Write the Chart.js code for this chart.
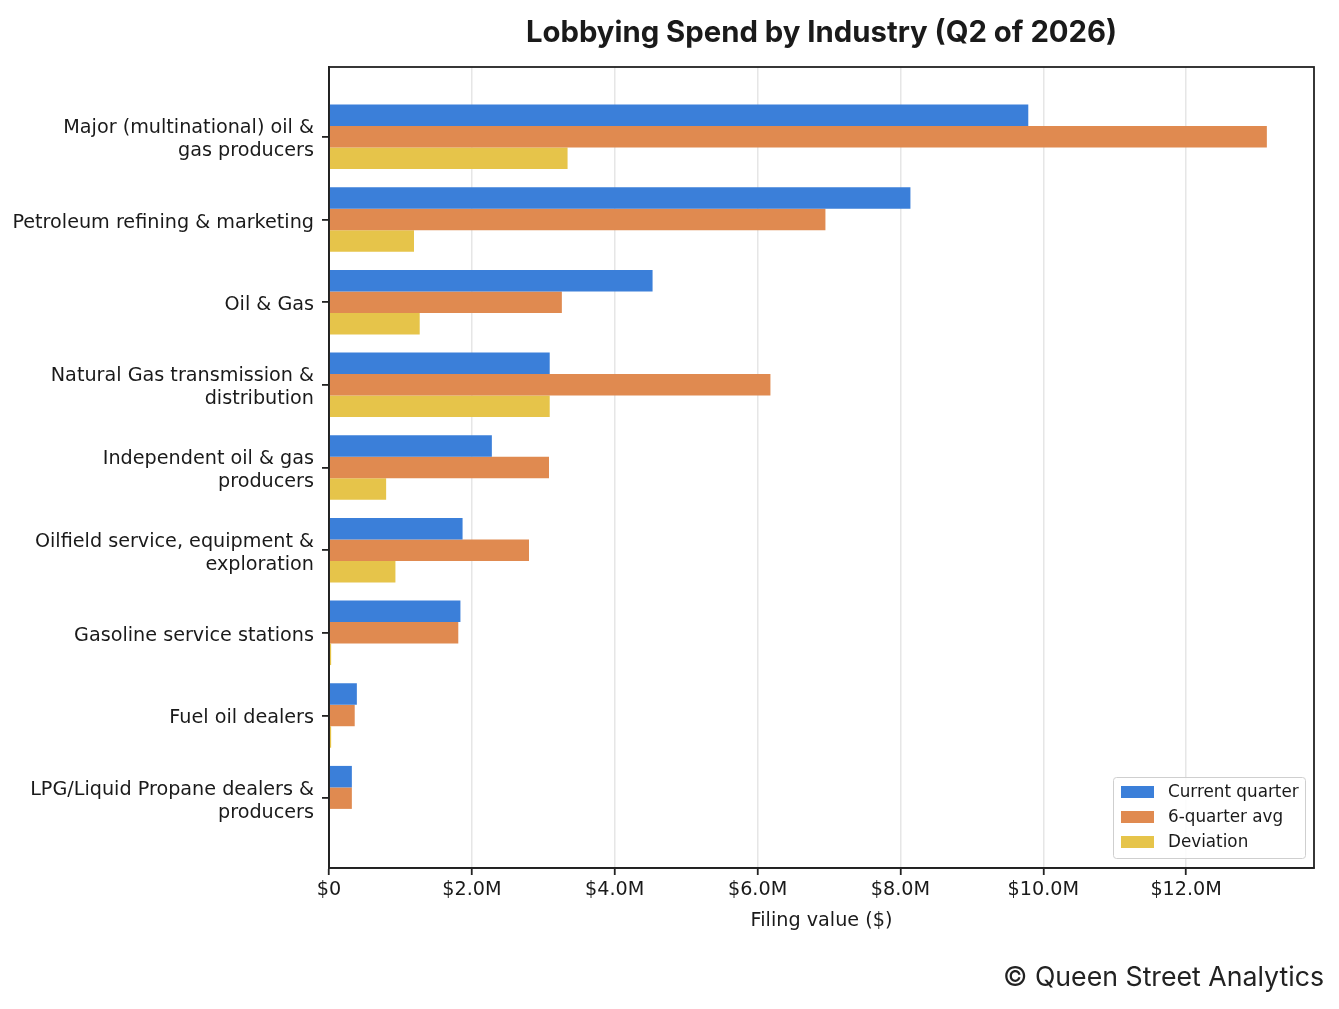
<!DOCTYPE html>
<html><head><meta charset="utf-8">
<script src="https://cdn.jsdelivr.net/npm/chart.js@4.4.1/dist/chart.umd.min.js"></script>
<style>html,body{margin:0;padding:0;background:#fff;}#wrap{width:1339px;height:1009px;}</style>
</head><body><div id="wrap"><canvas id="c" width="1339" height="1009"></canvas></div>
<script>
const chartTitle = 'Lobbying Spend by Industry (Q2 of 2026)';
const categories = [
  'Major (multinational) oil &\ngas producers',
  'Petroleum refining & marketing',
  'Oil & Gas',
  'Natural Gas transmission &\ndistribution',
  'Independent oil & gas\nproducers',
  'Oilfield service, equipment &\nexploration',
  'Gasoline service stations',
  'Fuel oil dealers',
  'LPG/Liquid Propane dealers &\nproducers'
];
const seriesNames = ['Current quarter', '6-quarter avg', 'Deviation'];
const currentQuarter = [9790000, 8140000, 4530000, 3090000, 2280000, 1870000, 1840000, 390000, 320000];
const sixQuarterAvg  = [13130000, 6950000, 3260000, 6180000, 3080000, 2800000, 1810000, 360000, 320000];
const deviation      = [3340000, 1190000, 1270000, 3090000, 800000, 930000, 30000, 30000, 0];
const xTickValues = [0, 2000000, 4000000, 6000000, 8000000, 10000000, 12000000];
const xAxisTitle = 'Filing value ($)';
const credit = '\u00A9 Queen Street Analytics';
const colors = ['#3b7fd9', '#e08a50', '#e6c44a'];

const seriesValues = [currentQuarter, sixQuarterAvg, deviation];
const datasets = seriesNames.map((name, s) => ({
  label: name,
  data: seriesValues[s].map((v, i) => ({x: v, y: i})),
  backgroundColor: colors[s],
  borderWidth: 0,
  categoryPercentage: 0.78,
  barPercentage: 1.0
}));

const TICK_FONT = {family: 'DejaVu Sans', size: 19.2, lineHeight: 1.2};
const DARK = '#222222';

const decorPlugin = {
  id: 'decor',
  afterDraw(chart) {
    const ctx = chart.ctx, a = chart.chartArea;
    ctx.save();
    ctx.strokeStyle = DARK; ctx.lineWidth = 1.8;
    ctx.strokeRect(a.left, a.top, a.right - a.left, a.bottom - a.top);
    ctx.fillStyle = '#1a1a1a';
    ctx.font = 'bold 29.3px "Inter"';
    ctx.textAlign = 'center'; ctx.textBaseline = 'middle';
    ctx.fillText(chartTitle, (a.left + a.right) / 2, 33);
    const bx = 1113.5, by = 777.5, bw = 192, bh = 81;
    ctx.beginPath();
    ctx.roundRect(bx, by, bw, bh, 3);
    ctx.fillStyle = 'rgba(255,255,255,0.85)'; ctx.fill();
    ctx.strokeStyle = '#cfcfcf'; ctx.lineWidth = 1; ctx.stroke();
    ctx.font = '16.8px "DejaVu Sans"';
    ctx.textAlign = 'left'; ctx.textBaseline = 'middle';
    chart.data.datasets.forEach((ds, k) => {
      const cy = 792 + k * 25;
      ctx.fillStyle = ds.backgroundColor;
      ctx.fillRect(1121, cy - 6, 33, 12);
      ctx.fillStyle = '#1a1a1a';
      ctx.fillText(ds.label, 1168, cy + 1);
    });
    ctx.font = '26.7px "Inter"';
    ctx.textAlign = 'right'; ctx.fillStyle = '#222';
    ctx.fillText(credit, 1324, 978);
    ctx.restore();
  }
};

new Chart(document.getElementById('c'), {
  type: 'bar',
  data: {datasets},
  options: {
    responsive: false,
    animation: false,
    devicePixelRatio: 1,
    indexAxis: 'y',
    layout: {padding: {top: 67, right: 25, left: 0, bottom: 0}},
    plugins: {legend: {display: false}, title: {display: false}, tooltip: {enabled: false}},
    scales: {
      x: {
        type: 'linear', position: 'bottom',
        min: 0, max: 13790000,
        afterBuildTicks(scale) { scale.ticks = xTickValues.map(v => ({value: v})); },
        afterFit(scale) { scale.height = 141; },
        ticks: {
          font: TICK_FONT, color: '#1a1a1a', padding: 3,
          callback: v => v === 0 ? '$0' : '$' + (v / 1e6).toFixed(1) + 'M'
        },
        grid: {color: '#e6e6e6', lineWidth: 1.5, tickColor: DARK, tickWidth: 1.8, tickLength: 7, drawOnChartArea: true, drawTicks: true},
        border: {display: true, color: DARK, width: 1.8},
        title: {display: true, text: xAxisTitle, font: TICK_FONT, color: '#1a1a1a', padding: {top: 4, bottom: 76}}
      },
      y: {
        type: 'linear', position: 'left', reverse: true, offset: false,
        min: -0.845, max: 8.845,
        afterBuildTicks(scale) { scale.ticks = categories.map((_, i) => ({value: i})); },
        afterFit(scale) { scale.width = 329; },
        ticks: {
          font: TICK_FONT, color: '#1a1a1a', padding: 8, labelOffset: 3,
          callback: v => categories[v] !== undefined ? categories[v].split('\n') : ''
        },
        grid: {offset: false, drawOnChartArea: false, drawTicks: true, tickLength: 7, tickColor: DARK, tickWidth: 1.8, color: DARK, lineWidth: 1.8},
        border: {display: true, color: DARK, width: 1.8}
      }
    }
  },
  plugins: [decorPlugin]
});
</script>
</body></html>
